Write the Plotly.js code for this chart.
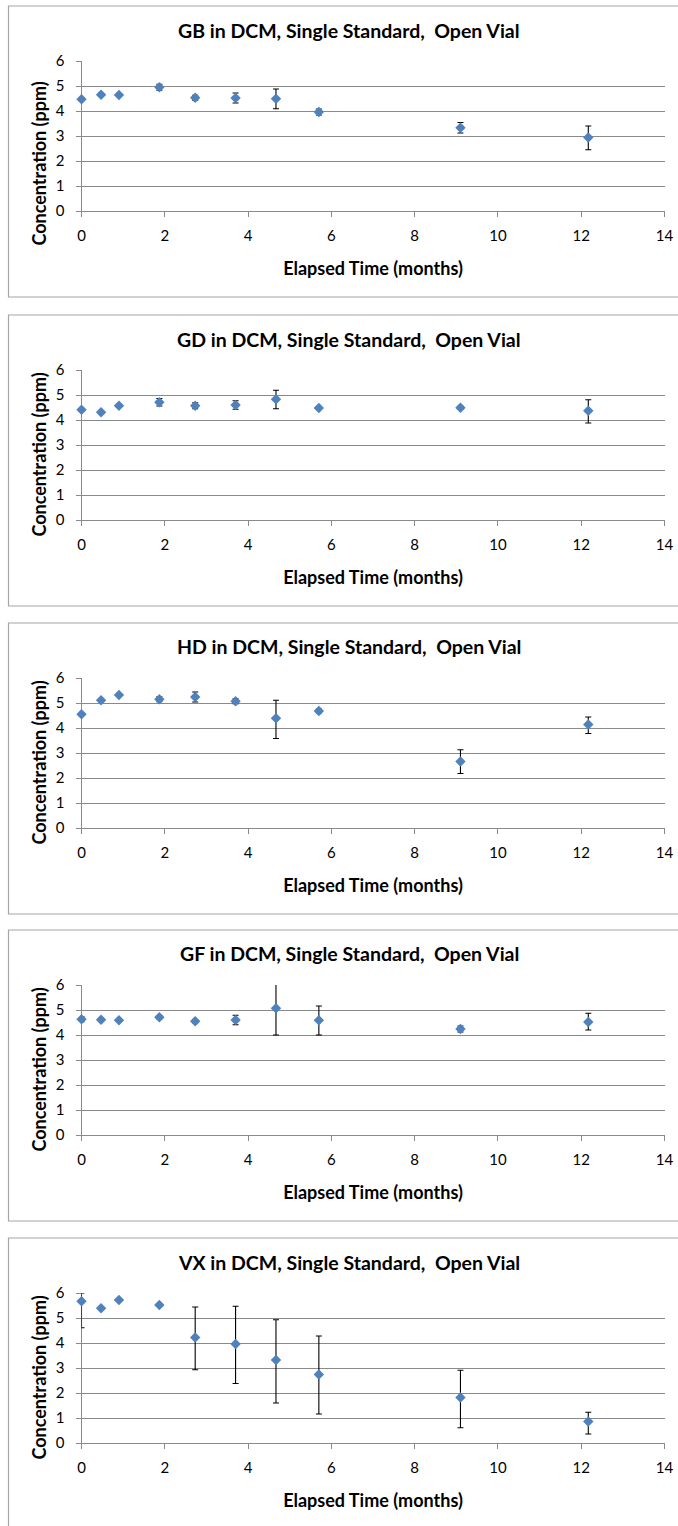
<!DOCTYPE html>
<html>
<head>
<meta charset="utf-8">
<script src="https://cdn.plot.ly/plotly-3.0.1.min.js"></script>
<style>
html,body{margin:0;padding:0;background:#fff;}
#chart{width:678px;height:1526px;}
</style>
</head>
<body>
<div id="chart"></div>
<script>
// ---- data ----
const months = [0, 0.47, 0.9, 1.87, 2.73, 3.7, 4.67, 5.7, 9.1, 12.17];

const chartTitles = [
  "GB in DCM, Single Standard,  Open Vial",
  "GD in DCM, Single Standard,  Open Vial",
  "HD in DCM, Single Standard,  Open Vial",
  "GF in DCM, Single Standard,  Open Vial",
  "VX in DCM, Single Standard,  Open Vial"
];

const gb         = [4.47, 4.65, 4.64, 4.95, 4.53, 4.52, 4.49, 3.96, 3.33, 2.94];
const gbErrPlus  = [0.05, 0.06, 0.06, 0.12, 0.10, 0.20, 0.39, 0.12, 0.21, 0.46];
const gbErrMinus = [0.05, 0.06, 0.06, 0.12, 0.10, 0.20, 0.40, 0.12, 0.21, 0.49];

const gd         = [4.41, 4.31, 4.57, 4.71, 4.57, 4.60, 4.83, 4.48, 4.49, 4.37];
const gdErrPlus  = [0.05, 0.05, 0.06, 0.15, 0.12, 0.17, 0.36, 0.06, 0.06, 0.44];
const gdErrMinus = [0.05, 0.05, 0.06, 0.15, 0.12, 0.17, 0.38, 0.06, 0.06, 0.49];

const hd         = [4.55, 5.11, 5.32, 5.15, 5.24, 5.07, 4.39, 4.68, 2.66, 4.14];
const hdErrPlus  = [0.05, 0.06, 0.05, 0.10, 0.20, 0.10, 0.72, 0.08, 0.47, 0.30];
const hdErrMinus = [0.05, 0.06, 0.05, 0.10, 0.20, 0.10, 0.81, 0.08, 0.48, 0.36];

const gf         = [4.63, 4.61, 4.59, 4.71, 4.55, 4.60, 5.07, 4.59, 4.24, 4.52];
const gfErrPlus  = [0.10, 0.06, 0.05, 0.06, 0.06, 0.19, 0.97, 0.57, 0.12, 0.35];
const gfErrMinus = [0.10, 0.06, 0.05, 0.06, 0.06, 0.19, 1.07, 0.59, 0.12, 0.32];

const vx         = [5.67, 5.39, 5.72, 5.52, 4.22, 3.96, 3.32, 2.74, 1.82, 0.86];
const vxErrPlus  = [0.33, 0.05, 0.05, 0.05, 1.22, 1.51, 1.61, 1.54, 1.09, 0.37];
const vxErrMinus = [1.06, 0.05, 0.05, 0.05, 1.29, 1.58, 1.72, 1.58, 1.21, 0.50];

const xTickVals = [0, 2, 4, 6, 8, 10, 12, 14];
const yTickVals = [0, 1, 2, 3, 4, 5, 6];
const xAxisTitle = "Elapsed Time (months)";
const yAxisTitle = "Concentration (ppm)";

// ---- layout ----
const W = 678, H = 1526;
const series = [gb, gd, hd, gf, vx];
const errPlus = [gbErrPlus, gdErrPlus, hdErrPlus, gfErrPlus, vxErrPlus];
const errMinus = [gbErrMinus, gdErrMinus, hdErrMinus, gfErrMinus, vxErrMinus];
const plotTops = [61, 370, 678, 985, 1293];
const yTitleOffsets = [103, 85, 85, 85, 85];
const plotH = 150;
const xLeft = 81.5, xRight = 664.5;
const FONT = "Lato, 'Open Sans', sans-serif";
const gridCol = "#8a8a8a";
const markerCol = "#4F81BD";

const data = [];
const layout = {
  width: W, height: H,
  margin: {l: 0, r: 0, t: 0, b: 0},
  paper_bgcolor: "#ffffff",
  plot_bgcolor: "#ffffff",
  showlegend: false,
  font: {family: FONT, color: "#000"},
  shapes: [],
  annotations: []
};

series.forEach((ys, i) => {
  const n = i + 1;
  const xa = "x" + (n === 1 ? "" : n);
  const ya = "y" + (n === 1 ? "" : n);
  const top = plotTops[i];
  data.push({
    type: "scatter", mode: "markers",
    x: months, y: ys, xaxis: xa, yaxis: ya,
    marker: {symbol: "diamond", size: 8, color: markerCol, line: {width: 0}},
    error_y: {type: "data", symmetric: false, array: errPlus[i], arrayminus: errMinus[i],
              visible: true, color: "#000", thickness: 1.1, width: 3},
    cliponaxis: false
  });
  const xKey = "xaxis" + (n === 1 ? "" : n);
  const yKey = "yaxis" + (n === 1 ? "" : n);
  layout[xKey] = {
    domain: [xLeft / W, xRight / W],
    anchor: ya,
    range: [0, 14],
    tickvals: xTickVals,
    ticktext: xTickVals.map(String),
    showgrid: false, zeroline: false,
    showline: true, linecolor: gridCol, linewidth: 1,
    ticks: "outside", ticklen: 5, tickcolor: gridCol, tickwidth: 1,
    ticklabelstandoff: 6,
    tickfont: {family: FONT, size: 15, color: "#000"},
    title: {text: xAxisTitle, font: {family: FONT, size: 18, color: "#000", weight: "bold"}, standoff: 19},
    layer: "below traces",
    fixedrange: true
  };
  layout[yKey] = {
    domain: [1 - (top + plotH) / H, 1 - top / H],
    anchor: xa,
    range: [0, 6],
    tickvals: yTickVals,
    ticktext: yTickVals.map(String),
    showgrid: true, gridcolor: gridCol, gridwidth: 1,
    zeroline: false,
    showline: true, linecolor: gridCol, linewidth: 1,
    ticks: "outside", ticklen: 5, tickcolor: gridCol, tickwidth: 1,
    ticklabelstandoff: 8,
    tickfont: {family: FONT, size: 15, color: "#000"},
    layer: "below traces",
    fixedrange: true
  };
  // panel frame
  layout.shapes.push({
    type: "rect", xref: "paper", yref: "paper",
    x0: 8.5 / W, x1: 1.05,
    y0: 1 - (top + 236) / H, y1: 1 - (top - 55) / H,
    line: {color: "#a6a6a6", width: 1.2}, fillcolor: "rgba(0,0,0,0)", layer: "below"
  });
  // chart title
  layout.annotations.push({
    xref: "paper", yref: "paper",
    x: 349 / W, y: 1 - (top - 31) / H,
    xanchor: "center", yanchor: "middle",
    text: "<b>" + chartTitles[i] + "</b>", showarrow: false,
    font: {family: FONT, size: 19.5, color: "#000"}
  });
  // y-axis title
  layout.annotations.push({
    xref: "paper", yref: "paper",
    x: 38.5 / W, y: 1 - (top + yTitleOffsets[i]) / H,
    xanchor: "center", yanchor: "middle",
    text: "<b>" + yAxisTitle + "</b>", showarrow: false, textangle: -90,
    font: {family: FONT, size: 18, color: "#000"}
  });
});

Plotly.newPlot("chart", data, layout, {displayModeBar: false, staticPlot: true});
</script>
</body>
</html>
